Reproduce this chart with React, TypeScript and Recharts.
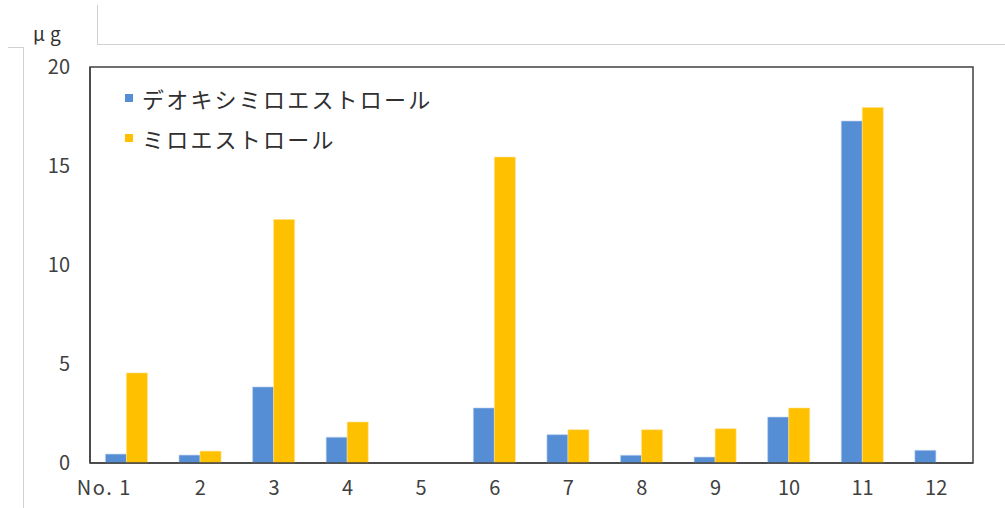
import { BarChart, Bar, XAxis, YAxis, Legend, ReferenceArea } from 'recharts';

const categories = ['No. 1', '2', '3', '4', '5', '6', '7', '8', '9', '10', '11', '12'];
const deoxyValues = [0.45, 0.4, 3.84, 1.3, 0, 2.78, 1.43, 0.39, 0.3, 2.32, 17.27, 0.64];
const miroValues = [4.55, 0.6, 12.3, 2.07, 0, 15.45, 1.68, 1.68, 1.73, 2.78, 17.96, 0];
const yTicks = [0, 5, 10, 15, 20];

const seriesNames = ['デオキシミロエストロール', 'ミロエストロール'];
const BLUE = '#558ed5';
const YELLOW = '#ffc000';
const FONT = '"Noto Sans CJK JP", "Noto Sans", sans-serif';

const data = categories.map((name, i) => ({
  name,
  deoxy: deoxyValues[i],
  miro: miroValues[i],
}));

const XTick = ({ x, y, payload }: any) => {
  const label: string = payload.value;
  // first label "No. 1" keeps its digit under the bar group
  const isFirst = label.startsWith('No.');
  return (
    <text
      x={isFirst ? x + 5 : x}
      y={y}
      dy="0.8em"
      textAnchor={isFirst ? 'end' : 'middle'}
      fill="#404040"
      fontSize={20}
      fontFamily={FONT}
      letterSpacing={isFirst ? 1.5 : 0}
    >
      {label}
    </text>
  );
};

const LegendBox = () => (
  <div style={{ fontFamily: FONT, fontSize: 22, color: '#303030', letterSpacing: 2.2 }}>
    {seriesNames.map((n, i) => (
      <div key={n} style={{ display: 'flex', alignItems: 'center', height: 40 }}>
        <span
          style={{
            display: 'inline-block',
            width: 8,
            height: 8,
            background: i === 0 ? BLUE : YELLOW,
            marginRight: 9,
          }}
        />
        {n}
      </div>
    ))}
  </div>
);

export default function App() {
  return (
    <div style={{ position: 'absolute', left: 0, top: 0, width: 1005, height: 508, background: '#fff' }}>
      {/* cut-off sheet borders around the chart */}
      <div style={{ position: 'absolute', left: 97, top: 5, width: 1, height: 39, background: '#d0d0d0' }} />
      <div style={{ position: 'absolute', left: 97, top: 44, width: 908, height: 1, background: '#d0d0d0' }} />
      <div style={{ position: 'absolute', left: 8, top: 47, width: 15, height: 1, background: '#d0d0d0' }} />
      <div style={{ position: 'absolute', left: 23, top: 47, width: 1, height: 461, background: '#d0d0d0' }} />
      <div
        style={{
          position: 'absolute',
          left: 33,
          top: 19,
          fontFamily: FONT,
          fontSize: 19,
          color: '#303030',
          letterSpacing: 5,
        }}
      >
        μg
      </div>
      <BarChart
        width={1005}
        height={508}
        data={data}
        margin={{ top: 67, right: 32, left: 30, bottom: 0 }}
        barCategoryGap="21%"
        barGap={0}
      >
        <XAxis
          dataKey="name"
          height={45}
          tickLine={false}
          tickMargin={10}
          interval={0}
          tick={<XTick />}
          axisLine={{ stroke: '#404040', strokeWidth: 1.5 }}
        />
        <YAxis
          width={60}
          domain={[0, 20]}
          ticks={yTicks}
          tickLine={false}
          tickMargin={14}
          axisLine={{ stroke: '#404040', strokeWidth: 1.5 }}
          tick={{ fill: '#404040', fontSize: 20, fontFamily: FONT }}
        />
        {/* plot area frame */}
        <ReferenceArea y1={0} y2={20} fill="none" stroke="#404040" strokeWidth={1.5} ifOverflow="visible" />
        <Legend
          content={<LegendBox />}
          layout="vertical"
          verticalAlign="middle"
          align="center"
          wrapperStyle={{ left: 125, top: 78, width: 'auto' }}
        />
        <Bar dataKey="deoxy" name={seriesNames[0]} fill={BLUE} stroke="#b8cfee" strokeWidth={0.6} isAnimationActive={false} />
        <Bar dataKey="miro" name={seriesNames[1]} fill={YELLOW} stroke="#ffe08a" strokeWidth={0.6} isAnimationActive={false} />
      </BarChart>
    </div>
  );
}
